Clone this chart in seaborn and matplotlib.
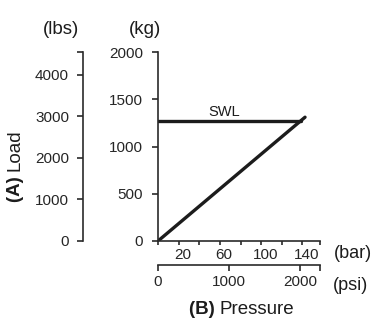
# %%
# Load vs pressure chart (kg / lbs against bar / psi)
import matplotlib
matplotlib.use("Agg")
import matplotlib.pyplot as plt
import matplotlib.transforms as mtransforms
import pandas as pd
import seaborn as sns

# data
pressure_bar = [0, 142.5]
load_kg = [0, 1310]
swl_bar = [0, 139]
swl_kg = [1270, 1270]
swl_label_pos = (64, 1370)

kg_ticks = [0, 500, 1000, 1500, 2000]
lbs_ticks = [0, 1000, 2000, 3000, 4000]
bar_labeled = [20, 60, 100, 140]
bar_unlabeled = [0, 40, 80, 120]
psi_ticks = [0, 1000, 2000]

BAR_MAX = 157
KG_MAX = 2000
LBS_PER_KG = 2.275   # as drawn in the reference scale
PSI_PER_BAR = 14.5038

W, H = 372, 321

sns.set_theme(style="ticks")
plt.rcParams["font.family"] = ["Liberation Sans", "DejaVu Sans"]

ink = "#1c1c1c"
axis_col = "#2a2a2a"
TICK_FS = 11
TITLE_FS = 13.5


def fx(px):
    return px / W


def fy(py):
    return 1 - py / H


fig = plt.figure(figsize=(W / 100, H / 100), dpi=100)

# %%
# main axes: kg vs bar
ax = fig.add_axes([fx(158), fy(241), (320 - 158) / W, (241 - 52) / H])

df_load = pd.DataFrame({"bar": pressure_bar, "kg": load_kg})
df_swl = pd.DataFrame({"bar": swl_bar, "kg": swl_kg})
sns.lineplot(data=df_load, x="bar", y="kg", color=ink, lw=2.4, ax=ax)
sns.lineplot(data=df_swl, x="bar", y="kg", color=ink, lw=2.4, ax=ax)
ax.text(*swl_label_pos, "SWL", fontsize=10.5, ha="center", va="center", color=ink)

ax.set_xlim(0, BAR_MAX)
ax.set_ylim(0, KG_MAX)
ax.set_xlabel("")
ax.set_ylabel("")
for s in ["top", "right"]:
    ax.spines[s].set_visible(False)
for s in ["left", "bottom"]:
    ax.spines[s].set_color(axis_col)
    ax.spines[s].set_linewidth(1.2)
ax.patch.set_alpha(0)

ax.set_yticks(kg_ticks)
ax.tick_params(axis="y", length=4.3, width=1.2, color=axis_col, pad=6.5,
               labelsize=TICK_FS)

ax.set_xticks(bar_labeled)
ax.set_xticks(bar_unlabeled + [BAR_MAX], minor=True)
ax.tick_params(axis="x", which="both", length=3, width=1.2, color=axis_col,
               pad=2, labelsize=TICK_FS)
shift = mtransforms.ScaledTranslation(4 / 100, 0, fig.dpi_scale_trans)
for lbl in ax.get_xticklabels():
    lbl.set_transform(lbl.get_transform() + shift)

# psi axis under the bar axis
psi = ax.secondary_xaxis((241 - 265) / (241 - 52),
                         functions=(lambda b: b * PSI_PER_BAR,
                                    lambda p: p / PSI_PER_BAR))
psi.set_xticks(psi_ticks)
psi.set_xticks([BAR_MAX * PSI_PER_BAR], minor=True)
psi.tick_params(axis="x", which="both", length=4, width=1.2, color=axis_col,
                pad=3, labelsize=TICK_FS)
psi.spines["bottom"].set_color(axis_col)
psi.spines["bottom"].set_linewidth(1.2)

# lbs axis on the far left
lbs = ax.secondary_yaxis((83 - 158) / (320 - 158),
                         functions=(lambda k: k * LBS_PER_KG,
                                    lambda p: p / LBS_PER_KG))
lbs.set_yticks(lbs_ticks)
lbs.set_yticks([KG_MAX * LBS_PER_KG], minor=True)
lbs.tick_params(axis="y", which="both", length=4, width=1.2, color=axis_col,
                pad=6, labelsize=TICK_FS)
lbs.spines["left"].set_color(axis_col)
lbs.spines["left"].set_linewidth(1.2)

# %%
# unit and axis titles
fig.text(fx(61), fy(30), "(lbs)", fontsize=TITLE_FS, ha="center", va="center", color=ink)
fig.text(fx(145), fy(30), "(kg)", fontsize=TITLE_FS, ha="center", va="center", color=ink)
fig.text(fx(334), fy(253), "(bar)", fontsize=13, ha="left", va="center", color=ink)
fig.text(fx(333), fy(286), "(psi)", fontsize=13, ha="left", va="center", color=ink)


def mixed(x, y, bold, regular, rotation=0):
    # bold prefix + regular word, centred as one string
    renderer = fig.canvas.get_renderer()
    full = fig.text(x, y, bold + " " + regular, fontsize=TITLE_FS,
                    rotation=rotation, ha="center", va="center")
    bb = full.get_window_extent(renderer)
    full.remove()
    if rotation == 0:
        b_txt = fig.text(bb.x0 / fig.bbox.width, y, bold + " ", fontsize=TITLE_FS,
                         fontweight="bold", ha="left", va="center", color=ink)
        b = b_txt.get_window_extent(renderer)
        fig.text(b.x1 / fig.bbox.width, y, regular, fontsize=TITLE_FS,
                 ha="left", va="center", color=ink)
    else:
        b_txt = fig.text(x, bb.y0 / fig.bbox.height, bold + " ", fontsize=TITLE_FS,
                         fontweight="bold", rotation=90, ha="center", va="bottom",
                         color=ink)
        b = b_txt.get_window_extent(renderer)
        fig.text(x, b.y1 / fig.bbox.height, regular, fontsize=TITLE_FS,
                 rotation=90, ha="center", va="bottom", color=ink)


mixed(fx(15), fy(166), "(A)", "Load", rotation=90)
mixed(fx(241), fy(309), "(B)", "Pressure")

fig.savefig("out.png", dpi=100)
plt.close(fig)
